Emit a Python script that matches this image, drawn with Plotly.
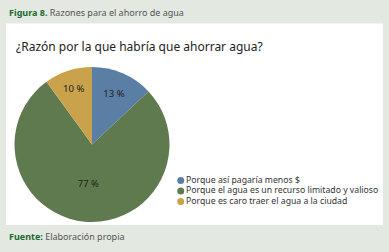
import plotly.graph_objects as go

labels = ["Porque así pagaría menos $",
          "Porque el agua es un recurso limitado y valioso",
          "Porque es caro traer el agua a la ciudad"]
values = [13, 77, 10]
colors = ["#5b7fa4", "#5f7a4f", "#c9a24b"]
legend_pos = [2, 1, 0]

W, H = 389, 252
FONT = "Noto Sans"

fig = go.Figure()
fig.add_trace(go.Pie(
    labels=labels, values=values, sort=False, direction="clockwise", rotation=0,
    marker=dict(colors=colors, line=dict(width=0)),
    texttemplate="%{value} %", textposition="inside", insidetextorientation="horizontal",
    textfont=dict(family=FONT, size=9.5, color="#222222"),
    domain=dict(x=[14.5 / W, 169.5 / W], y=[30 / H, 185 / H]),
    showlegend=False, hoverinfo="skip"))

fig.add_trace(go.Scatter(
    x=[0, 0, 0], y=legend_pos, mode="markers+text", text=labels,
    textposition="middle right",
    marker=dict(color=colors, size=7, symbol="circle"),
    textfont=dict(family=FONT, size=8.7, color="#333333"),
    xaxis="x", yaxis="y", showlegend=False, hoverinfo="skip", cliponaxis=False))

fig.update_layout(
    width=W, height=H, margin=dict(l=0, r=0, t=0, b=0),
    paper_bgcolor="#e3e8e1", plot_bgcolor="rgba(0,0,0,0)",
    xaxis=dict(domain=[176 / W, 370 / W], range=[-0.25, 10], visible=False, fixedrange=True),
    yaxis=dict(domain=[(252 - 206.75) / H, (252 - 175.25) / H], range=[-0.5, 2.5], visible=False, fixedrange=True),
    shapes=[dict(type="rect", xref="paper", yref="paper",
                 x0=6 / W, x1=383 / W, y0=(252 - 225) / H, y1=(252 - 23.5) / H,
                 fillcolor="white", line=dict(width=0), layer="below")],
    annotations=[
        dict(text="<b><span style='color:#1d6a2e'>Figura 8.</span></b> Razones para el ahorro de agua",
             x=7 / W, y=(252 - 12) / H, xref="paper", yref="paper", xanchor="left", yanchor="middle",
             showarrow=False, font=dict(family=FONT, size=9, color="#555555")),
        dict(text="¿Razón por la que habría que ahorrar agua?",
             x=14 / W, y=(252 - 46) / H, xref="paper", yref="paper", xanchor="left", yanchor="middle",
             showarrow=False, font=dict(family=FONT, size=12, color="#222222")),
        dict(text="<b><span style='color:#1d6a2e'>Fuente:</span></b> Elaboración propia",
             x=7 / W, y=(252 - 236) / H, xref="paper", yref="paper", xanchor="left", yanchor="middle",
             showarrow=False, font=dict(family=FONT, size=9, color="#555555")),
    ],
)

fig.write_html("out.html", config={"displayModeBar": False},
               post_script="document.body.style.margin='0';")
